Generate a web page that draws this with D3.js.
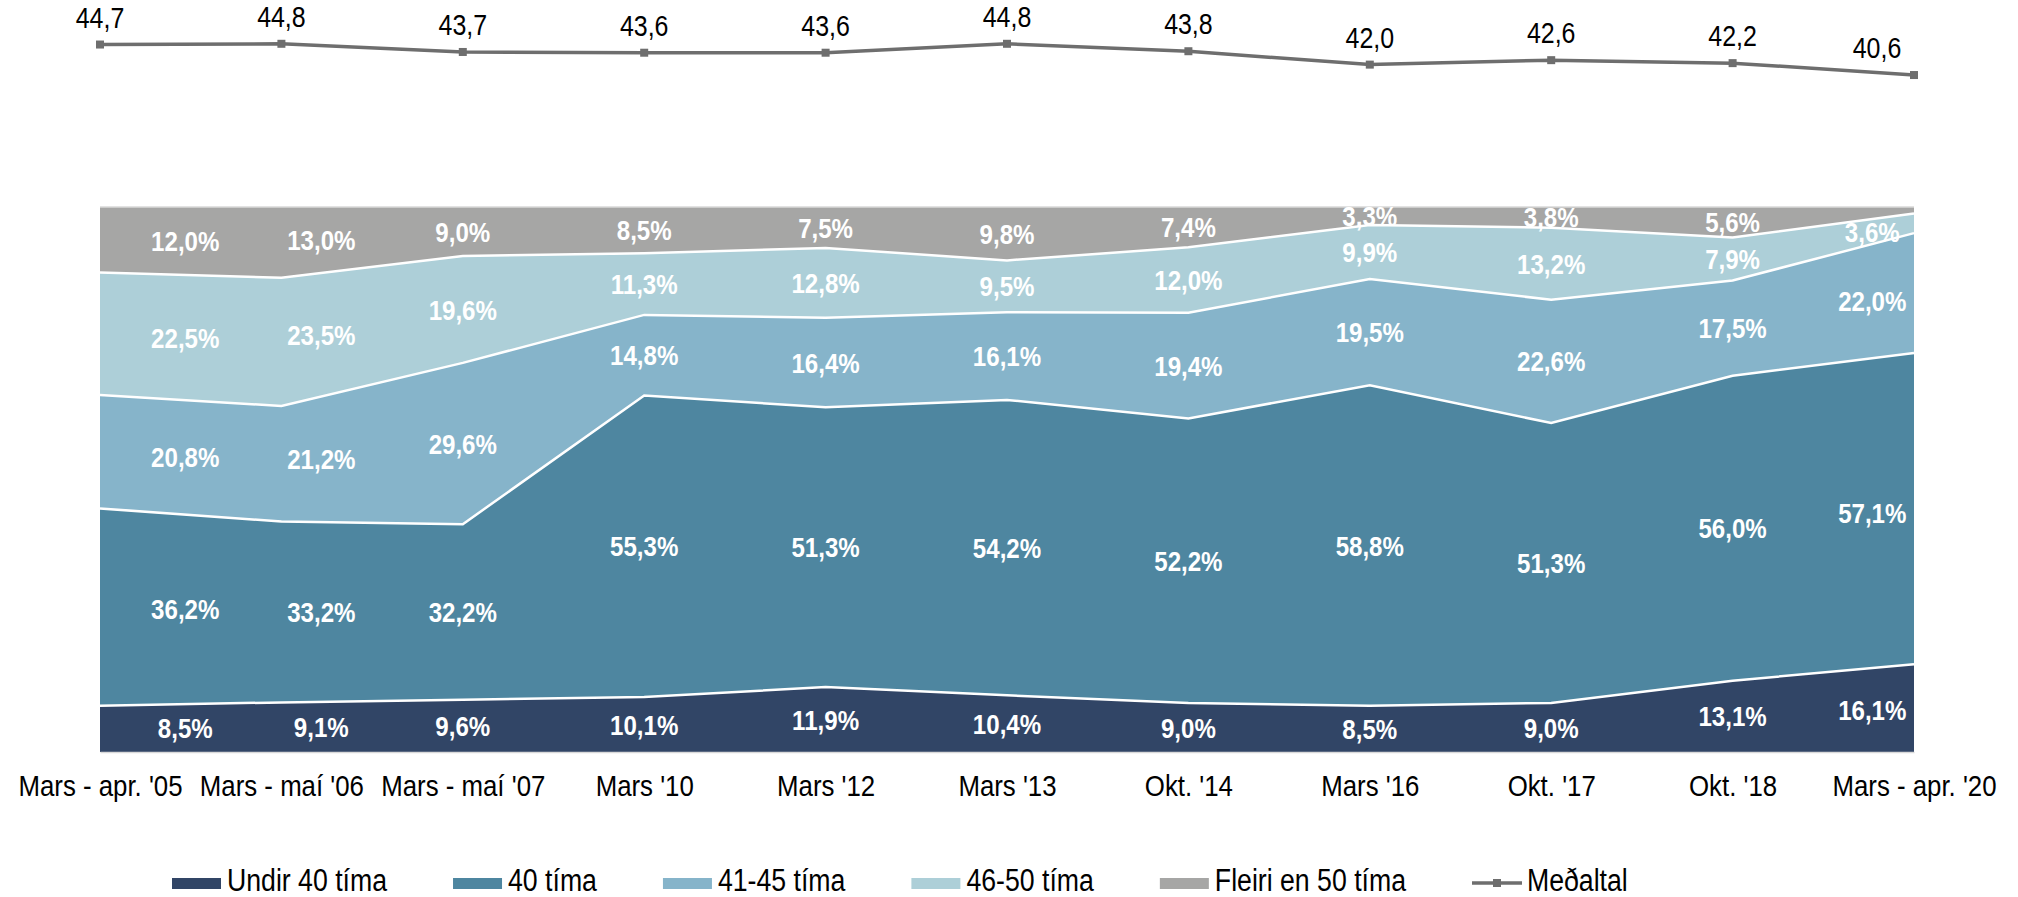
<!DOCTYPE html>
<html lang="is">
<head>
<meta charset="utf-8">
<title>Vinnutími</title>
<script src="https://cdn.jsdelivr.net/npm/d3@7"></script>
<style>
    body { margin: 0; background: #fff; }
    text { font-family: "Liberation Sans", Arial, sans-serif; }
    .lbl { fill: #fff; font-weight: bold; font-size: 28px; text-anchor: middle; }
    .avgLbl { fill: #000; font-size: 29px; text-anchor: middle; }
    .axis text { fill: #000; font-size: 30px; }
    .legend text { fill: #000; font-size: 31px; }
</style>
</head>
<body>
<script>
    // data
    var categories = ["Mars - apr. '05", "Mars - maí '06", "Mars - maí '07", "Mars '10", "Mars '12", "Mars '13",
        "Okt. '14", "Mars '16", "Okt. '17", "Okt. '18", "Mars - apr. '20"];
    var seriesNames = ["Undir 40 tíma", "40 tíma", "41-45 tíma", "46-50 tíma", "Fleiri en 50 tíma"];
    var undir40 = [8.5, 9.1, 9.6, 10.1, 11.9, 10.4, 9.0, 8.5, 9.0, 13.1, 16.1];
    var tima40 = [36.2, 33.2, 32.2, 55.3, 51.3, 54.2, 52.2, 58.8, 51.3, 56.0, 57.1];
    var tima41_45 = [20.8, 21.2, 29.6, 14.8, 16.4, 16.1, 19.4, 19.5, 22.6, 17.5, 22.0];
    var tima46_50 = [22.5, 23.5, 19.6, 11.3, 12.8, 9.5, 12.0, 9.9, 13.2, 7.9, 3.6];
    var fleiri50 = [12.0, 13.0, 9.0, 8.5, 7.5, 9.8, 7.4, 3.3, 3.8, 5.6, 1.2];
    var avgName = "Meðaltal";
    var medaltal = [44.7, 44.8, 43.7, 43.6, 43.6, 44.8, 43.8, 42.0, 42.6, 42.2, 40.6];

    var colors = ["#314566", "#4e86a0", "#86b4ca", "#adcfd8", "#a6a6a5"];
    var lineColor = "#6e6e6e";

    var width = 2018, height = 897;
    var plot = {left: 100, right: 1914, top: 207, bottom: 752};

    var svg = d3.select("body").append("svg")
        .attr("width", width)
        .attr("height", height);

    // no narrow font installed: squeeze the glyphs so they look like Arial Narrow
    var squeeze = 0.86;
    function narrow(sel) {
        sel.each(function() {
            var w = this.getComputedTextLength();
            d3.select(this)
                .attr("textLength", w * squeeze)
                .attr("lengthAdjust", "spacingAndGlyphs");
        });
    }

    var allSeries = [undir40, tima40, tima41_45, tima46_50, fleiri50];
    var rows = categories.map(function(c, i) {
        var r = {cat: c};
        seriesNames.forEach(function(n, s) { r[n] = allSeries[s][i]; });
        return r;
    });

    var stack = d3.stack().keys(seriesNames).offset(d3.stackOffsetExpand);
    var stacked = stack(rows);

    var x = d3.scalePoint().domain(categories).range([plot.left, plot.right]);
    var y = d3.scaleLinear().domain([0, 1]).range([plot.bottom, plot.top]);
    // secondary scale for the average line
    var yAvg = d3.scaleLinear().domain([40, 45]).range([79.5, 42.3]);

    var area = d3.area()
        .x(function(d) { return x(d.data.cat); })
        .y0(function(d) { return y(d[0]); })
        .y1(function(d) { return y(d[1]); });

    svg.append("g").selectAll("path")
        .data(stacked)
        .enter().append("path")
        .attr("d", area)
        .attr("fill", function(d, i) { return colors[i]; });

    // white borders between the bands
    var topLine = d3.line()
        .x(function(d) { return x(d.data.cat); })
        .y(function(d) { return y(d[1]); });
    svg.append("g").selectAll("path")
        .data(stacked.slice(0, stacked.length - 1))
        .enter().append("path")
        .attr("d", topLine)
        .attr("fill", "none")
        .attr("stroke", "#fff")
        .attr("stroke-width", 2.5);

    svg.append("line")
        .attr("x1", plot.left).attr("x2", plot.right)
        .attr("y1", plot.top).attr("y2", plot.top)
        .attr("stroke", "#d9d9d9").attr("stroke-width", 1.5);

    // x axis
    var xAxis = svg.append("g")
        .attr("class", "axis")
        .attr("transform", "translate(0," + plot.bottom + ")")
        .call(d3.axisBottom(x).tickSize(0).tickPadding(23));
    xAxis.select(".domain").attr("stroke", "#d9d9d9").attr("stroke-width", 1.5);
    xAxis.selectAll("text").attr("font-family", null).attr("font-size", null).call(narrow);

    // data labels, placed in the middle of each band
    var step = x.step();
    function labelX(i) {
        var nudge = 0;
        if (i === 0) nudge = step * 0.47;
        else if (i === 1) nudge = step * 0.22;
        else if (i === categories.length - 1) nudge = -step * 0.23;
        return x(categories[i]) + nudge;
    }
    function bandMid(layer, px) {
        var t = (px - plot.left) / step;
        var i0 = Math.max(0, Math.min(categories.length - 2, Math.floor(t)));
        var f = t - i0;
        var a = layer[i0], b = layer[i0 + 1];
        var lo = a[0] + (b[0] - a[0]) * f;
        var hi = a[1] + (b[1] - a[1]) * f;
        return y((lo + hi) / 2);
    }
    function fmt(v) { return v.toFixed(1).replace(".", ","); }

    stacked.forEach(function(layer, s) {
        svg.append("g").selectAll("text")
            .data(layer.filter(function(d, i) { return allSeries[s][i] >= 2; }))
            .enter().append("text")
            .attr("class", "lbl")
            .attr("x", function(d) { return labelX(categories.indexOf(d.data.cat)); })
            .attr("y", function(d) { return bandMid(layer, labelX(categories.indexOf(d.data.cat))); })
            .attr("dy", "0.36em")
            .text(function(d) { return fmt(d.data[layer.key]) + "%"; })
            .call(narrow);
    });

    // average line
    var avgLine = d3.line()
        .x(function(d, i) { return x(categories[i]); })
        .y(function(d) { return yAvg(d); });
    svg.append("path")
        .datum(medaltal)
        .attr("d", avgLine)
        .attr("fill", "none")
        .attr("stroke", lineColor)
        .attr("stroke-width", 3.5);
    svg.append("g").selectAll("rect")
        .data(medaltal)
        .enter().append("rect")
        .attr("x", function(d, i) { return x(categories[i]) - 4; })
        .attr("y", function(d) { return yAvg(d) - 4; })
        .attr("width", 8).attr("height", 8)
        .attr("fill", lineColor);
    svg.append("g").selectAll("text")
        .data(medaltal)
        .enter().append("text")
        .attr("class", "avgLbl")
        .attr("x", function(d, i) {
            var px = x(categories[i]);
            return Math.min(px, plot.right - 37);
        })
        .attr("y", function(d) { return yAvg(d) - 17; })
        .text(fmt)
        .call(narrow);

    // legend
    var legend = svg.append("g").attr("class", "legend");
    var lx = 172, ly = 891;
    seriesNames.concat([avgName]).forEach(function(n, i) {
        if (i < seriesNames.length) {
            legend.append("rect")
                .attr("x", lx).attr("y", ly - 13)
                .attr("width", 49).attr("height", 11)
                .attr("fill", colors[i]);
        } else {
            legend.append("line")
                .attr("x1", lx).attr("x2", lx + 50)
                .attr("y1", ly - 8).attr("y2", ly - 8)
                .attr("stroke", lineColor).attr("stroke-width", 3.5);
            legend.append("rect")
                .attr("x", lx + 21).attr("y", ly - 12)
                .attr("width", 8).attr("height", 8)
                .attr("fill", lineColor);
        }
        var t = legend.append("text")
            .attr("x", lx + 55).attr("y", ly)
            .text(n);
        var w = t.node().getComputedTextLength() * squeeze;
        t.attr("textLength", w).attr("lengthAdjust", "spacingAndGlyphs");
        lx += 55 + w + 66;
    });
</script>
</body>
</html>
